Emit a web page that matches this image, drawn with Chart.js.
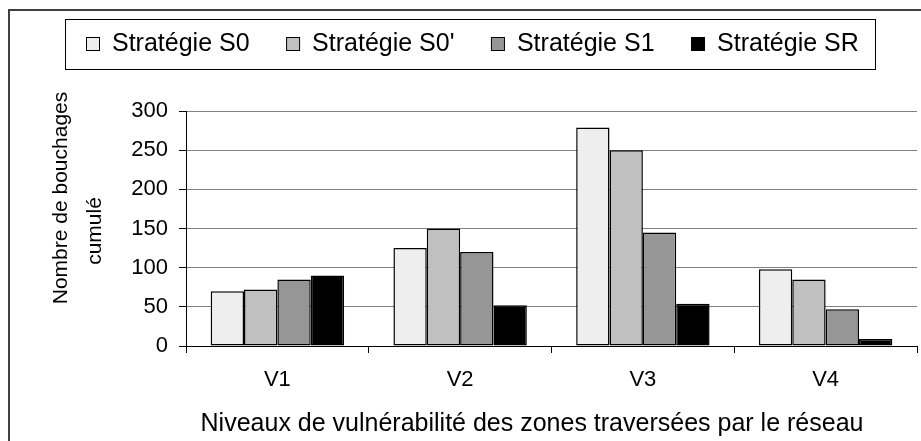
<!DOCTYPE html>
<html lang="fr">
<head>
  <meta charset="UTF-8">
  <title>Nombre de bouchages cumulé</title>
  <script src="https://cdn.jsdelivr.net/npm/chart.js"></script>
  <style>
    html, body { margin: 0; padding: 0; background: #fff; overflow: hidden; }
  </style>
</head>
<body>
  <canvas id="chart" width="921" height="441"></canvas>

  <script>
    const categories = ['V1', 'V2', 'V3', 'V4'];
    const seriesNames = ['Stratégie S0', "Stratégie S0'", 'Stratégie S1', 'Stratégie SR'];
    const s0 = [70, 125, 279, 98];
    const s0prime = [72, 150, 250, 85];
    const s1 = [85, 120, 145, 47];
    const sr = [90, 52, 54, 9];
    const yTicks = [0, 50, 100, 150, 200, 250, 300];
    const xTitle = 'Niveaux de vulnérabilité des zones traversées par le réseau';
    const yTitle = ['Nombre de bouchages', 'cumulé'];

    const fills = ['#eeeeee', '#c0c0c0', '#969696', '#000000'];
    const FONT = "'Liberation Sans', Arial, sans-serif";

    const datasets = [s0, s0prime, s1, sr].map((values, i) => ({
      label: seriesNames[i],
      data: values,
      backgroundColor: fills[i],
      borderColor: '#000',
      borderWidth: 1.5,
      borderSkipped: false,
      categoryPercentage: 0.73,
      barPercentage: 1
    }));

    // frame, legend and axis titles
    const decor = {
      id: 'decor',
      beforeDraw(chart) {
        const c = chart.ctx;
        c.save();
        c.fillStyle = '#fff';
        c.fillRect(0, 0, chart.width, chart.height);
        c.strokeStyle = '#404040';
        c.lineWidth = 2;
        c.beginPath();
        c.moveTo(9, chart.height);
        c.lineTo(9, 10);
        c.lineTo(chart.width, 10);
        c.stroke();
        c.restore();
      },
      afterDraw(chart) {
        const c = chart.ctx;
        c.save();

        // legend
        c.strokeStyle = '#000';
        c.lineWidth = 1;
        c.strokeRect(65.5, 19.5, 810, 50);
        c.font = '25px ' + FONT;
        c.textBaseline = 'middle';
        c.textAlign = 'left';
        let x = 86.5;
        chart.data.datasets.forEach(ds => {
          c.fillStyle = ds.backgroundColor;
          c.fillRect(x, 37.5, 13, 13);
          c.strokeRect(x, 37.5, 13, 13);
          c.fillStyle = '#000';
          c.fillText(ds.label, x + 25.5, 44);
          x += 25.5 + c.measureText(ds.label).width + 37;
        });

        // x title
        c.font = '25px ' + FONT;
        c.textAlign = 'center';
        c.textBaseline = 'alphabetic';
        c.fillText(xTitle, 532, 431);

        // y title
        c.font = '21px ' + FONT;
        c.save();
        c.translate(67, 198);
        c.rotate(-Math.PI / 2);
        c.fillText(yTitle[0], 0, 0);
        c.restore();
        c.save();
        c.translate(101, 231);
        c.rotate(-Math.PI / 2);
        c.fillText(yTitle[1], 0, 0);
        c.restore();

        c.restore();
      }
    };

    new Chart(document.getElementById('chart'), {
      type: 'bar',
      data: { labels: categories, datasets: datasets },
      options: {
        responsive: false,
        devicePixelRatio: 1,
        animation: false,
        layout: { padding: { left: 0, top: 111, right: 4, bottom: 0 } },
        plugins: {
          legend: { display: false },
          tooltip: { enabled: false }
        },
        scales: {
          x: {
            afterFit(scale) { scale.height = 95; },
            grid: {
              offset: true,
              drawOnChartArea: false,
              tickLength: 7,
              tickColor: '#000'
            },
            border: { color: '#000', width: 1 },
            ticks: { color: '#000', font: { family: FONT, size: 22 }, padding: 14 }
          },
          y: {
            min: yTicks[0],
            max: yTicks[yTicks.length - 1],
            afterFit(scale) { scale.width = 186; },
            grid: {
              color: '#808080',
              borderDash: [8, 5],
              tickBorderDash: [],
              tickLength: 7,
              tickColor: '#000'
            },
            border: { color: '#000', width: 1 },
            ticks: {
              stepSize: yTicks[1] - yTicks[0],
              color: '#000',
              font: { family: FONT, size: 22 },
              padding: 11
            }
          }
        }
      },
      plugins: [decor]
    });
  </script>
</body>
</html>
